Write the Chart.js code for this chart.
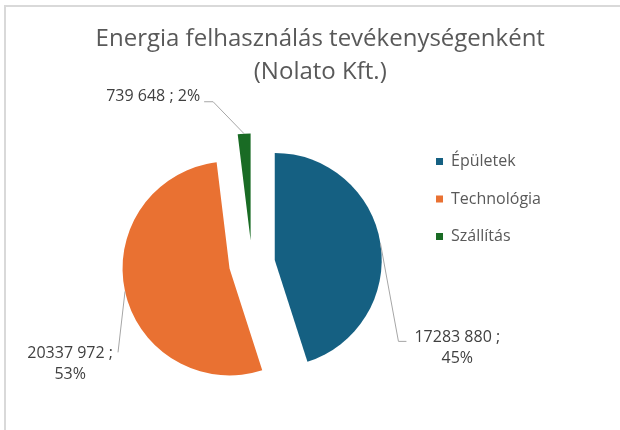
<!DOCTYPE html>
<html>
<head>
<meta charset="utf-8">
<script src="https://cdn.jsdelivr.net/npm/chart.js@4/dist/chart.umd.min.js"></script>
<style>
  html, body { margin: 0; padding: 0; background: #fff; }
  #wrap { position: relative; width: 620px; height: 430px; overflow: hidden; }
  #frame { position: absolute; left: 4px; top: 5px; right: -10px; bottom: -10px;
           border-top: 2px solid #d9d9d9; border-left: 2px solid #d9d9d9; }
  canvas { position: absolute; left: 0; top: 0; }
</style>
</head>
<body>
<div id="wrap">
  <div id="frame"></div>
  <canvas id="pie" width="620" height="430"></canvas>
</div>
<script>
const categories = ['Épületek', 'Technológia', 'Szállítás']
const energy = [17283880, 20337972, 739648]
const sliceColors = ['#156082', '#E97132', '#196B24']
const titleLines = ['Energia felhasználás tevékenységenként', '(Nolato Kft.)']

const fontFamily = '"Open Sans", sans-serif'
const explode = 23

// where each data label sits, relative to the point on the slice edge
const labelPlaces = [
  { dx: 18, dy: 98, tail: 8, side: 'right', gap: 8, textDy: -4, wrap: true },
  { dx: -7, dy: 61, tail: 0, side: 'left', gap: 5, textDy: 1, wrap: true },
  { dx: -31, dy: -32, tail: -9, side: 'left', gap: 4, textDy: -5, wrap: false }
]

// "17283 880" - the way the sheet formatted it
function fmt(v) {
  const s = String(v)
  return s.slice(0, -3) + ' ' + s.slice(-3)
}

const explodePlugin = {
  id: 'explode',
  afterUpdate(chart) {
    chart.getDatasetMeta(0).data.forEach(arc => {
      const mid = (arc.startAngle + arc.endAngle) / 2
      arc.x += Math.cos(mid) * explode
      arc.y += Math.sin(mid) * explode
    })
  }
}

const labelPlugin = {
  id: 'sliceLabels',
  afterDatasetsDraw(chart) {
    const ctx = chart.ctx
    const total = energy.reduce((a, b) => a + b, 0)
    ctx.save()
    chart.getDatasetMeta(0).data.forEach((arc, i) => {
      const p = labelPlaces[i]
      const mid = (arc.startAngle + arc.endAngle) / 2
      const ax = arc.x + Math.cos(mid) * arc.outerRadius
      const ay = arc.y + Math.sin(mid) * arc.outerRadius
      const bx = ax + p.dx, by = ay + p.dy
      const ex = bx + p.tail
      ctx.strokeStyle = '#a6a6a6'
      ctx.lineWidth = 1
      ctx.beginPath()
      ctx.moveTo(ax, ay)
      ctx.lineTo(bx, by)
      ctx.lineTo(ex, by)
      ctx.stroke()

      const pct = Math.round(energy[i] / total * 100) + '%'
      const lines = p.wrap ? [fmt(energy[i]) + ' ;', pct] : [fmt(energy[i]) + ' ; ' + pct]
      ctx.font = '16px ' + fontFamily
      ctx.fillStyle = '#404040'
      ctx.textAlign = 'center'
      ctx.textBaseline = 'middle'
      const w = Math.max(...lines.map(l => ctx.measureText(l).width))
      const cx = p.side === 'right' ? ex + p.gap + w / 2 : ex - p.gap - w / 2
      lines.forEach((l, k) => ctx.fillText(l, cx, by + p.textDy + k * 21))
    })
    ctx.restore()
  }
}

Chart.defaults.font.family = fontFamily

const pieChart = new Chart(document.getElementById('pie'), {
  type: 'pie',
  data: {
    labels: categories,
    datasets: [{
      data: energy,
      backgroundColor: sliceColors,
      borderWidth: 0,
      radius: 107
    }]
  },
  options: {
    responsive: false,
    animation: false,
    layout: { padding: { left: 89.5, right: 69, top: 0, bottom: 35 } },
    plugins: {
      title: {
        display: true,
        text: titleLines,
        color: '#595959',
        font: { size: 24, weight: 'normal', lineHeight: 1.4 },
        padding: { top: 22, bottom: 42.8 }
      },
      legend: {
        position: 'right',
        align: 'start',
        fullSize: false,
        labels: {
          boxWidth: 7,
          boxHeight: 7,
          padding: 21.5,
          color: '#595959',
          font: { size: 16 }
        }
      },
      tooltip: { enabled: false }
    }
  },
  plugins: [explodePlugin, labelPlugin]
})
</script>
</body>
</html>
